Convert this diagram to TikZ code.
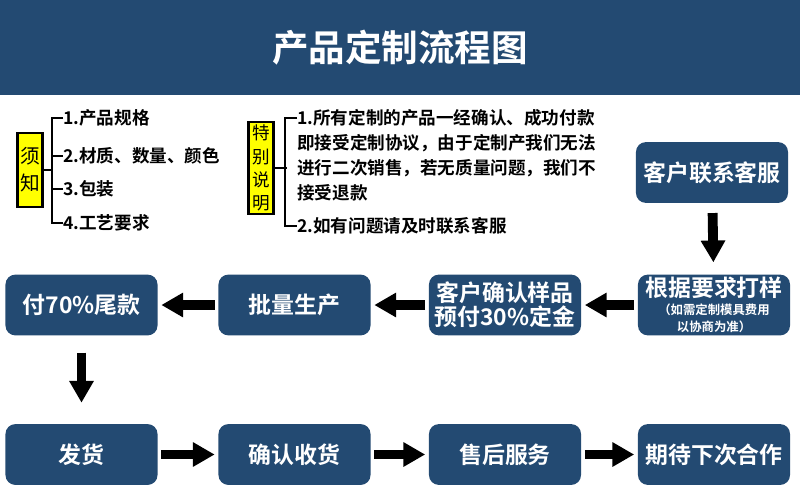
\documentclass[tikz,border=0pt]{standalone}
\usepackage{fontspec}
\setmainfont{Noto Sans CJK SC}[BoldFont={Noto Sans CJK SC Bold}]
\usepackage{xcolor}
\usepackage{tikz}
\usetikzlibrary{arrows.meta, positioning}
\definecolor{navy}{RGB}{35,74,114}
\definecolor{signyellow}{RGB}{255,255,0}

\begin{document}
\begin{tikzpicture}[x=0.025cm, y=-0.025cm,
  banner/.style={fill=navy, minimum width=20cm, minimum height=2.375cm,
                 inner sep=0pt, text=white,
                 font=\fontsize{26}{30}\selectfont\bfseries},
  box/.style={fill=navy, rounded corners=7pt,
              minimum width=3.8cm, minimum height=1.52cm, inner sep=0pt,
              text=white, align=center,
              font=\fontsize{16.3}{19}\selectfont\bfseries},
  tag/.style={draw=black, fill=signyellow, line width=2pt, inner sep=0pt,
              minimum width=0.62cm, align=center},
  item/.style={anchor=west, inner sep=0pt,
               font=\fontsize{12.5}{17.7}\selectfont\bfseries},
  bracket/.style={line width=2pt, color=black},
  arrow/.style={-{Triangle[length=15.5pt, width=16.5pt]}, line width=7pt,
                shorten <=2.5pt, shorten >=2.5pt}
]
\useasboundingbox (0,0) rectangle (800,488);

% header
\node[banner] (header) at (400,47.5) {产品定制流程图};

% notes
\node[tag, minimum height=1.85cm, font=\fontsize{14}{19}\selectfont]
  (notice) at (30,170) {须\\知};
\node[item] (item1) at (63,118) {1.产品规格};
\node[item] (item2) at (63,156) {2.材质、数量、颜色};
\node[item] (item3) at (63,189) {3.包装};
\node[item] (item4) at (63,223) {4.工艺要求};

\node[tag, minimum height=2.3cm, font=\fontsize{12.5}{16.5}\selectfont]
  (remark) at (261,168) {特\\别\\说\\明};
\node[item, anchor=north west, align=left] (rule1) at (297,109)
  {1.所有定制的产品一经确认、成功付款\\即接受定制协议，由于定制产我们无法\\进行二次销售，若无质量问题，我们不\\接受退款};
\node[item] (rule2) at (297,226) {2.如有问题请及时联系客服};

\draw[bracket] (item1.west) -| ([xshift=-7.8pt]item4.west) -- (item4.west);
\draw[bracket] (item2.west) -- ++(-11,0);
\draw[bracket] (item3.west) -- ++(-11,0);
\draw[bracket] (notice.east) -- ++(9,0);
\draw[bracket] ([yshift=-6.4pt]rule1.north west) -| ([xshift=-8.5pt]rule2.west) -- (rule2.west);
\draw[bracket] (remark.east) -- ++(12,0);

% flow
\node[box] (contact) at (712,172.5) {客户联系客服};
\node[box] (sample)  at (714,305)
  {根据要求打样\\[-6pt]
   \fontsize{8.8}{10.5}\selectfont（如需定制模具费用\\[-7pt]
   \fontsize{8.8}{10.5}\selectfont 以协商为准）};
\node[box] (confirm) at (505,305)   {客户确认样品\\[-2pt]预付30\%定金};
\node[box] (produce) at (294.5,305) {批量生产};
\node[box] (balance) at (81.5,305)  {付70\%尾款};
\node[box] (ship)    at (81.5,454.5) {发货};
\node[box] (receive) at (294.5,454.5) {确认收货};
\node[box] (service) at (505,454.5)   {售后服务};
\node[box] (again)   at (714,454.5)   {期待下次合作};

\draw[arrow, shorten <=7pt, shorten >=8.5pt] (contact) -- (sample);
\draw[arrow] (sample)  -- (confirm);
\draw[arrow] (confirm) -- (produce);
\draw[arrow] (produce) -- (balance);
\draw[arrow, shorten <=12pt, shorten >=15pt] (balance) -- (ship);
\draw[arrow] (ship)    -- (receive);
\draw[arrow] (receive) -- (service);
\draw[arrow] (service) -- (again);

\end{tikzpicture}
\end{document}
